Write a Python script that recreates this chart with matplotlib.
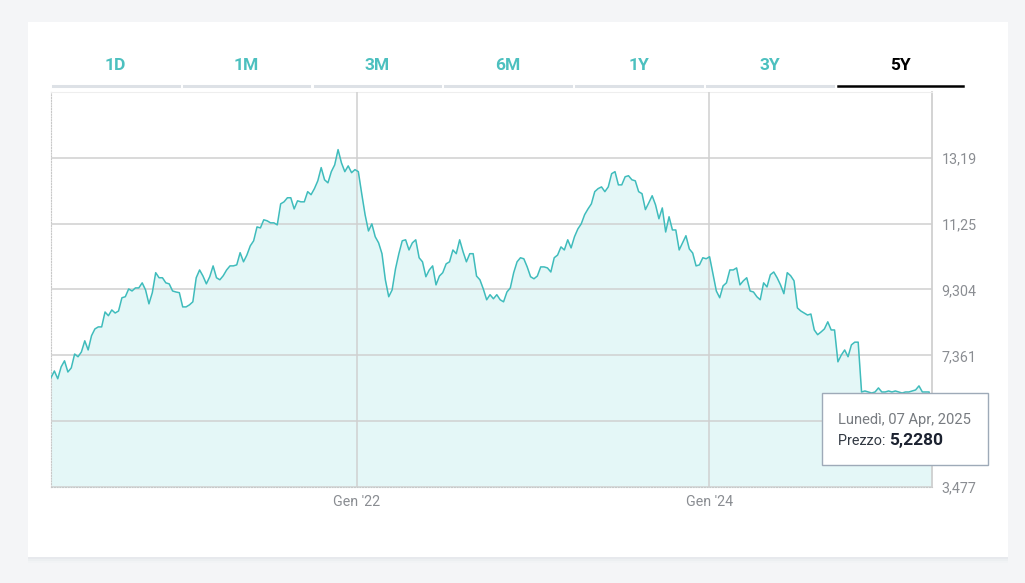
import matplotlib
matplotlib.use("Agg")
import matplotlib.pyplot as plt
from matplotlib.patches import Rectangle
import pandas as pd

# weekly prices (Apr 2020 -> Apr 2025), last point = tooltip value
prices = [
    6.70, 6.90, 6.67, 7.02, 7.20, 6.87, 6.99, 7.40, 7.32, 7.46,
    7.79, 7.52, 7.94, 8.14, 8.20, 8.20, 8.64, 8.53, 8.70, 8.61,
    8.67, 9.06, 9.09, 9.32, 9.26, 9.35, 9.35, 9.50, 9.29, 8.88,
    9.21, 9.80, 9.65, 9.65, 9.50, 9.47, 9.26, 9.23, 9.21, 8.79,
    8.79, 8.85, 8.94, 9.65, 9.88, 9.70, 9.47, 9.68, 10.00, 9.65,
    9.59, 9.71, 9.88, 10.00, 10.00, 10.03, 10.39, 10.12, 10.32, 10.59,
    10.74, 11.15, 11.12, 11.36, 11.33, 11.27, 11.27, 11.21, 11.83, 11.89,
    12.01, 12.01, 11.68, 11.92, 11.89, 11.89, 12.19, 12.10, 12.28, 12.51,
    12.90, 12.54, 12.45, 12.78, 12.98, 13.43, 13.04, 12.78, 12.95, 12.75,
    12.84, 12.78, 12.13, 11.51, 11.03, 11.24, 10.86, 10.68, 10.36, 9.59,
    9.09, 9.29, 9.91, 10.36, 10.74, 10.77, 10.47, 10.68, 10.77, 10.24,
    10.12, 9.68, 9.88, 10.00, 9.44, 9.70, 9.80, 10.06, 10.12, 10.47,
    10.36, 10.77, 10.42, 10.12, 10.36, 10.36, 9.70, 9.59, 9.32, 9.00,
    9.15, 9.03, 9.15, 9.00, 8.94, 9.23, 9.35, 9.80, 10.12, 10.24,
    10.21, 9.97, 9.68, 9.62, 9.70, 9.97, 9.97, 9.94, 9.82, 10.24,
    10.32, 10.56, 10.47, 10.77, 10.53, 10.86, 11.09, 11.24, 11.51, 11.68,
    11.83, 12.19, 12.28, 12.33, 12.19, 12.33, 12.72, 12.78, 12.39, 12.39,
    12.63, 12.66, 12.54, 12.51, 12.19, 12.13, 11.66, 11.86, 12.07, 11.80,
    11.39, 11.71, 11.00, 11.45, 11.06, 11.06, 10.47, 10.68, 10.89, 10.50,
    10.38, 10.00, 10.03, 10.24, 10.21, 10.27, 9.77, 9.26, 9.06, 9.41,
    9.50, 9.88, 9.88, 9.94, 9.44, 9.56, 9.65, 9.26, 9.23, 9.09,
    9.00, 9.50, 9.38, 9.74, 9.82, 9.65, 9.44, 9.18, 9.80, 9.71,
    9.56, 8.76, 8.67, 8.61, 8.55, 8.58, 8.11, 7.97, 8.05, 8.14,
    8.35, 8.11, 8.11, 7.17, 7.37, 7.52, 7.32, 7.67, 7.75, 7.75,
    6.28, 6.31, 6.28, 6.25, 6.28, 6.40, 6.28, 6.28, 6.31, 6.28,
    6.31, 6.28, 6.25, 6.28, 6.28, 6.31, 6.34, 6.46, 6.28, 6.28,
    6.28, 5.228,
]
dates = list(pd.date_range("2020-04-07", periods=261, freq="7D")) + [pd.Timestamp("2025-04-07")]

y_ticks = [3.477, 5.419, 7.361, 9.304, 11.25, 13.19]
# 5,419 sits behind the tooltip in the original, so its label is left blank
y_labels = ["3,477", "", "7,361", "9,304", "11,25", "13,19"]
x_ticks = [pd.Timestamp("2022-01-01"), pd.Timestamp("2024-01-01")]
x_labels = ["Gen '22", "Gen '24"]
tabs = ["1D", "1M", "3M", "6M", "1Y", "3Y", "5Y"]
active_tab = "5Y"

tooltip_date = "Lunedì, 07 Apr, 2025"
tooltip_price = "5,2280"

teal = "#3fbcbc"
fill = "#e4f7f7"
grid = "#d0d0d0"
label_grey = "#8a8d92"

W, H = 1025, 583
fig = plt.figure(figsize=(W / 100, H / 100), dpi=100)
fig.patch.set_facecolor("#f4f5f7")
plt.rcParams["font.family"] = ["Roboto", "DejaVu Sans"]


def fx(px):
    return px / W


def fy(py):
    return 1 - py / H


# card + soft shadow
for i, a in enumerate([0.05, 0.035, 0.02]):
    fig.patches.append(Rectangle((fx(28), fy(559 + 2 * i)), fx(980), (22 + 2 * i) / H,
                                 transform=fig.transFigure, facecolor="#8090a0",
                                 alpha=a, edgecolor="none", zorder=-3))
fig.patches.append(Rectangle((fx(28), fy(557)), fx(980), 535 / H, transform=fig.transFigure,
                             facecolor="white", edgecolor="none", zorder=-2))

# period tabs
tab_left = 53
tab_w = 125.5
tab_gap = 5.3
for i, t in enumerate(tabs):
    x0 = tab_left + i * (tab_w + tab_gap)
    active = t == active_tab
    fig.lines.append(plt.Line2D([fx(x0), fx(x0 + tab_w)], [fy(86), fy(86)],
                                transform=fig.transFigure,
                                color="black" if active else "#dde1e6",
                                lw=1.8 if active else 2.2, zorder=2))
    fig.text(fx(x0 + tab_w / 2), fy(66), t, ha="center", va="center", fontsize=12.5,
             fontweight="semibold", color="black" if active else "#4cc0bf", zorder=3)

# chart
ax = fig.add_axes([fx(51), 1 - 487 / H, fx(881), 395 / H])
ax.set_facecolor("white")
ax.fill_between(dates, prices, 0, color=fill, lw=0, zorder=1)
ax.plot(dates, prices, color=teal, lw=1.1, zorder=3)

ax.set_xlim(pd.Timestamp("2020-04-07"), pd.Timestamp("2025-04-07"))
ax.set_ylim(3.477, 15.13)

ax.yaxis.tick_right()
ax.set_yticks(y_ticks)
ax.set_yticklabels(y_labels)
ax.set_xticks(x_ticks)
ax.set_xticklabels(x_labels)
ax.tick_params(axis="both", length=0, labelsize=10.3, labelcolor=label_grey)
ax.tick_params(axis="y", pad=7)
ax.tick_params(axis="x", pad=6)
ax.grid(True, color=grid, lw=1.1, zorder=2)
ax.set_axisbelow(False)

for s in ["left", "bottom"]:
    ax.spines[s].set_linestyle((0, (1, 1.5)))
    ax.spines[s].set_color("#c8c8c8")
    ax.spines[s].set_linewidth(0.8)
ax.spines["top"].set_color("#eeeeee")
ax.spines["right"].set_color("#cccccc")
ax.spines["right"].set_linewidth(1.2)

# tooltip
fig.patches.append(Rectangle((fx(822), fy(465)), fx(166), 72 / H, transform=fig.transFigure,
                             facecolor="white", edgecolor="#9eaab8", lw=1, zorder=5))
fig.text(fx(838), fy(420), tooltip_date, ha="left", va="center", fontsize=10.6,
         color="#777b80", zorder=6)
t1 = fig.text(fx(838), fy(441), "Prezzo: ", ha="left", va="center", fontsize=10.4,
              color="#333a44", zorder=6)
fig.canvas.draw()
bb = t1.get_window_extent()
fig.text(bb.x1 / W, fy(441), tooltip_price, ha="left", va="center", fontsize=12.5,
         fontweight="bold", color="#1c2230", zorder=6)

fig.savefig("out.png", dpi=100, facecolor=fig.get_facecolor())
